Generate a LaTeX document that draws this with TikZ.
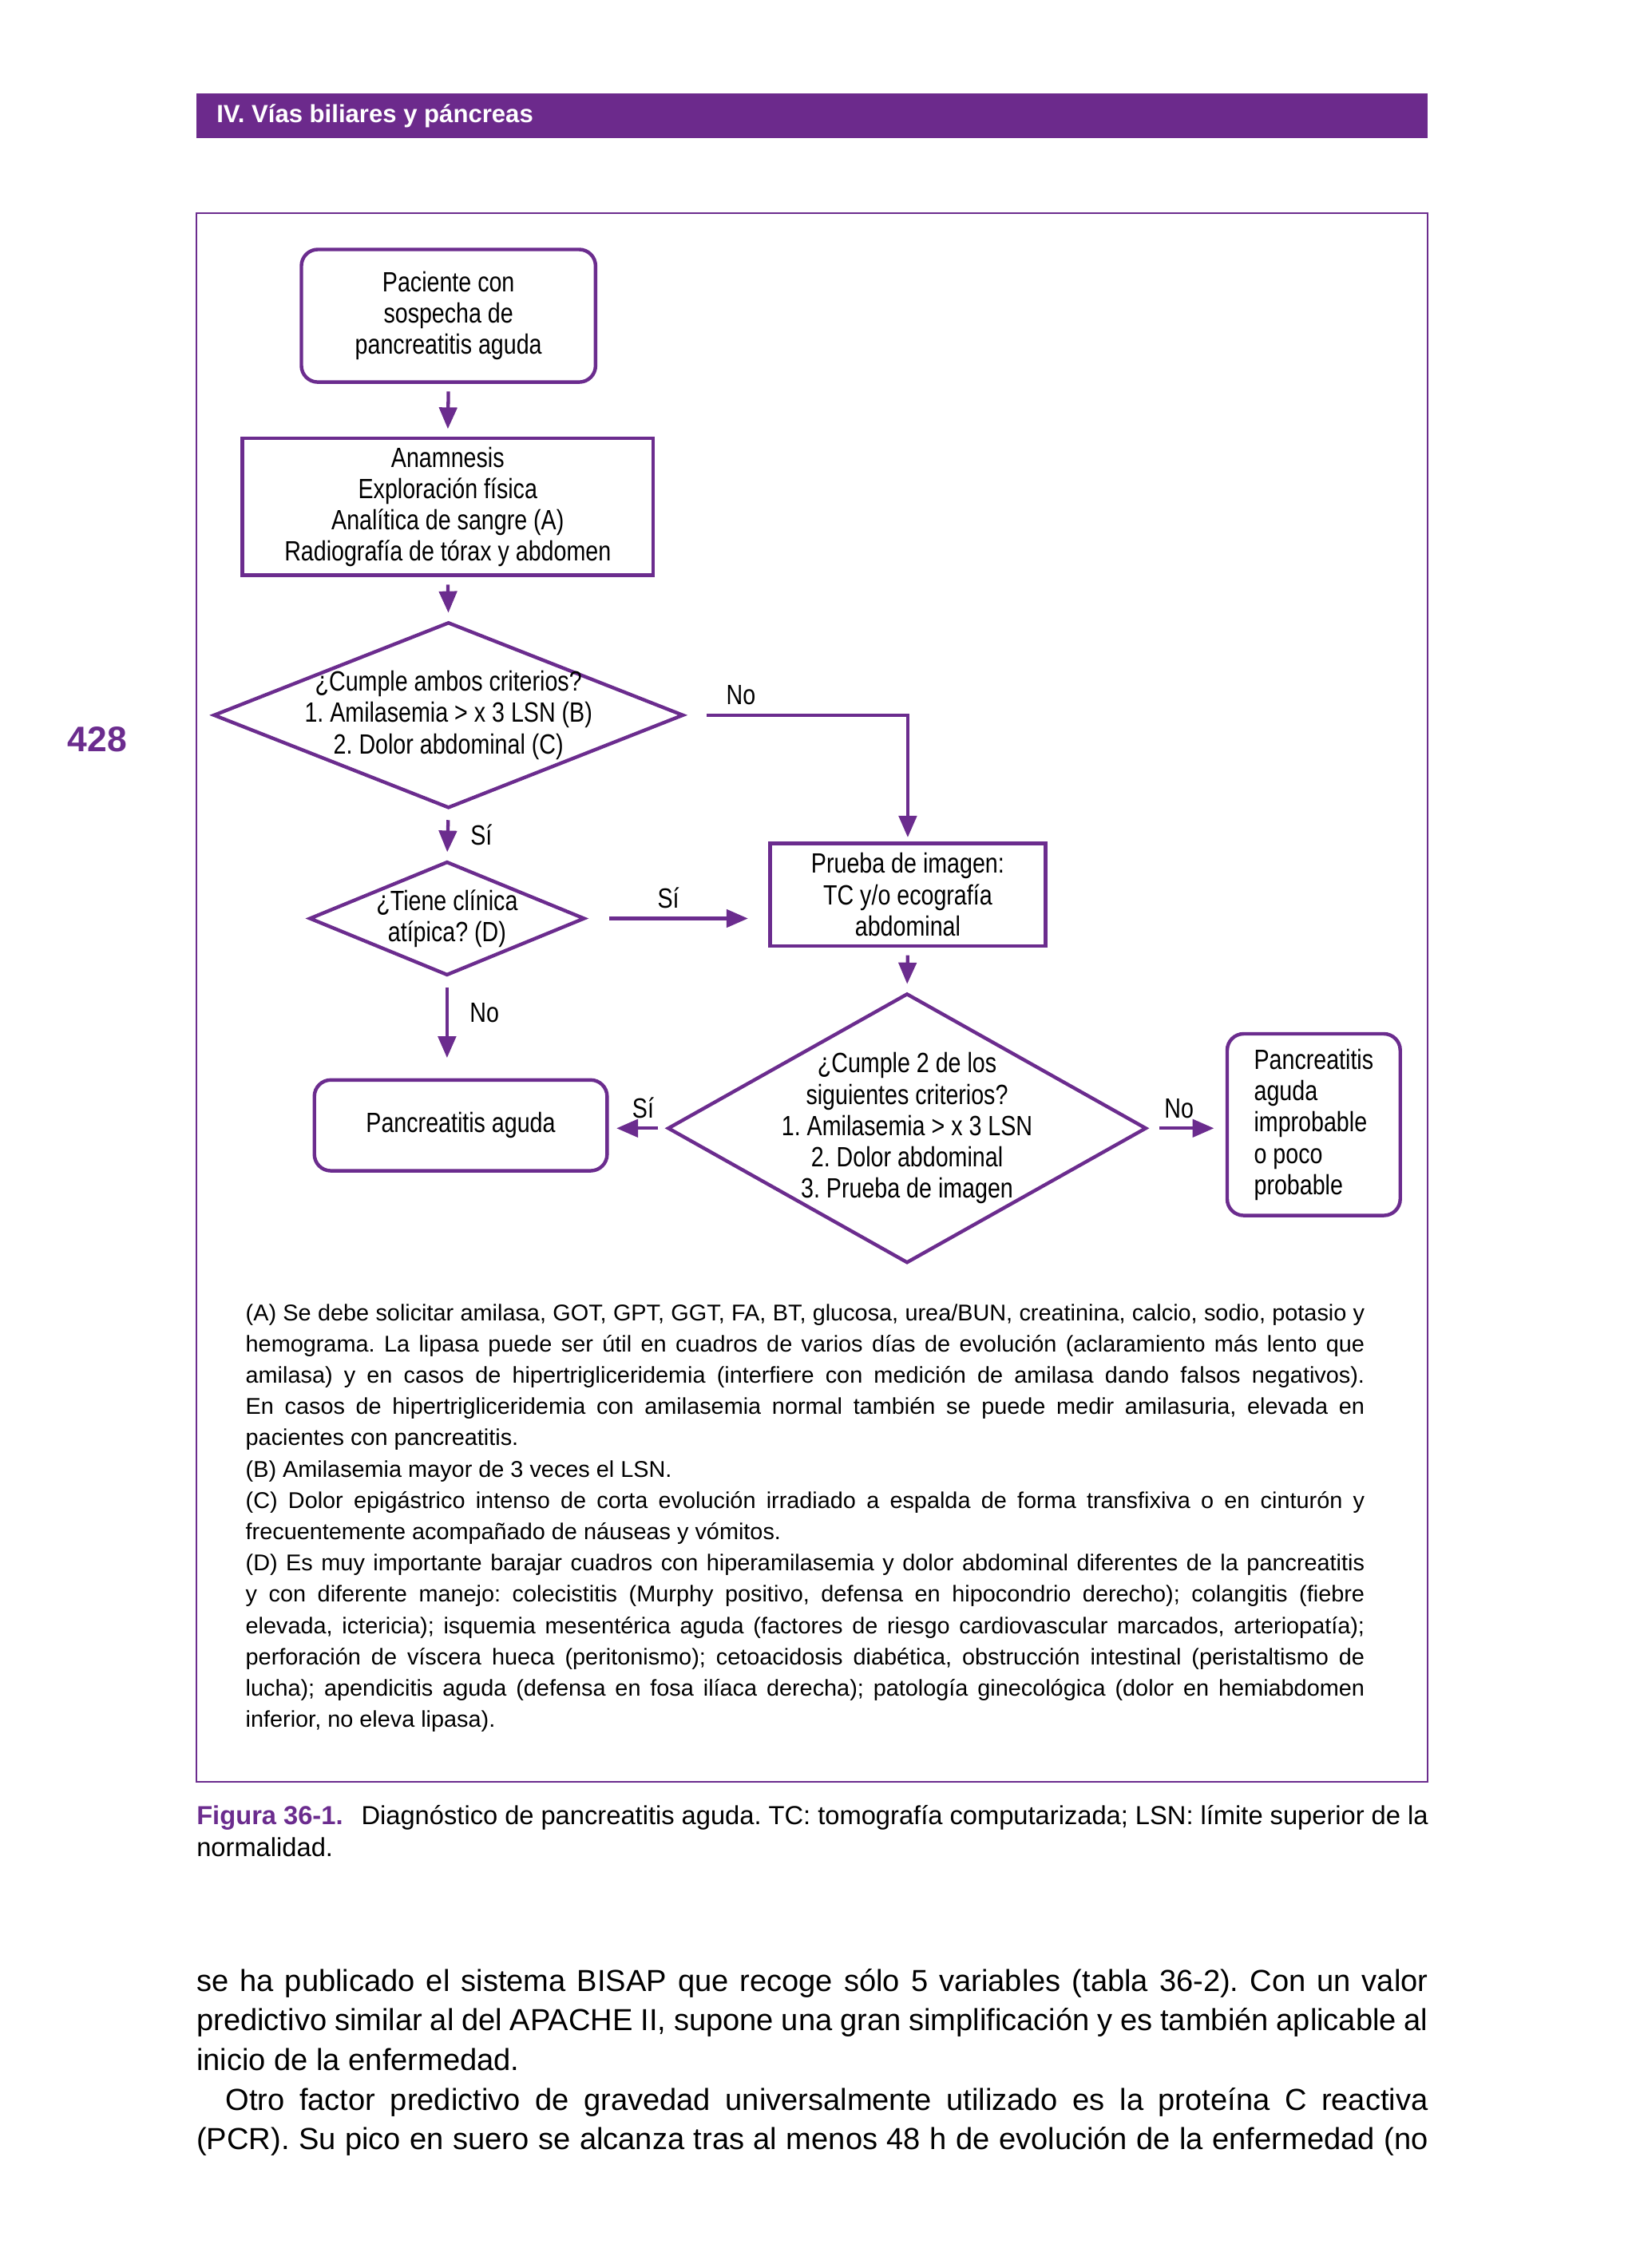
\documentclass[tikz,border=0pt]{standalone}
\usepackage{xcolor}
\usepackage{fontspec}
\setmainfont{Liberation Sans}
\newfontfamily\chartfont{Liberation Sans}[FakeStretch=0.82]
\newfontfamily\notefont{Liberation Sans}[FakeStretch=1.01]
\usepackage{tikz}
\usetikzlibrary{calc,shapes.geometric,arrows.meta}
\definecolor{bookPurple}{HTML}{6B2C8E}
\definecolor{barPurple}{HTML}{6C2A8C}

\begin{document}
\frenchspacing
\begin{tikzpicture}[x=0.2mm, y=-0.2mm,
                chart/.style={font=\chartfont\fontsize{11}{12.35}\selectfont, align=center},
                roundbox/.style={chart, draw=bookPurple, line width=1.4pt, rounded corners=6.5pt, inner sep=0pt},
                squarebox/.style={chart, draw=bookPurple, line width=1.4pt, inner sep=0pt},
                decision/.style={chart, diamond, draw=bookPurple, line width=1.4pt, inner sep=-50pt},
                link/.style={draw=bookPurple, line width=1.35pt, shorten <=3pt, shorten >=3pt, -{Triangle[length=8.5pt, width=7pt]}},
                answer/.style={font=\chartfont\fontsize{11}{12.35}\selectfont},
                notes/.style={anchor=north west, inner sep=0pt, align=justify, execute at begin node={\frenchspacing\tolerance=9999}}
            ]
                \useasboundingbox (0,0) rectangle (1134,1573);
                \fill[barPurple] (136,65) rectangle (990,96);
                \node[anchor=west, text=white, font=\bfseries\fontsize{9.8}{11}\selectfont] (chapter) at (144,80.5) {IV. Vías biliares y páncreas};
                \node[text=bookPurple, font=\bfseries\fontsize{14}{16}\selectfont] (pagenum) at (67.5,513) {428};
                \draw[bookPurple, line width=0.7pt] (136,148) rectangle (990,1236);

                \node[roundbox, minimum width=40.8mm, minimum height=18.4mm] (suspect) at (311,219) {Paciente con\\sospecha de\\pancreatitis aguda};
                \node[squarebox, minimum width=57mm, minimum height=19mm] (workup) at (310.5,351.5) {Anamnesis\\Exploración física\\Analítica de sangre (A)\\Radiografía de tórax y abdomen};
                \node[decision, minimum width=65.2mm, minimum height=25.8mm] (bothcrit) at (311,496) {¿Cumple ambos criterios?\\1. Amilasemia > x 3 LSN (B)\\2. Dolor abdominal (C)};
                \node[decision, minimum width=38.2mm, minimum height=15.8mm] (atypical) at (310,637) {¿Tiene clínica\\atípica? (D)};
                \node[squarebox, minimum width=38.2mm, minimum height=14.2mm] (imaging) at (629.5,620.5) {Prueba de imagen:\\TC y/o ecografía\\abdominal};
                \node[decision, minimum width=66.4mm, minimum height=37.4mm] (twocrit) at (629,782.5) {¿Cumple 2 de los\\siguientes criterios?\\1. Amilasemia > x 3 LSN\\2. Dolor abdominal\\3. Prueba de imagen};
                \node[roundbox, minimum width=40.6mm, minimum height=12.6mm] (acute) at (319.5,780.5) {Pancreatitis aguda};
                \node[roundbox, align=left, minimum width=24mm, minimum height=25.2mm] (unlikely) at (911,780) {Pancreatitis\\aguda\\improbable\\o poco\\probable};

                \draw[link] (suspect.south) -- (workup.north);
                \draw[link] (workup.south) -- (bothcrit.north);
                \draw[link, shorten <=4pt] (bothcrit.south) -- node[answer, right=5pt] {Sí} (atypical.north);
                \draw[link, shorten <=8.5pt, shorten >=1.7pt] (bothcrit.east) -- node[answer, above, pos=0.25] {No} (bothcrit.east -| imaging.north) -- (imaging.north);
                \draw[link, shorten <=9pt, shorten >=8pt] (atypical.east) -- node[answer, above, pos=0.45] {Sí} (atypical.east -| imaging.west);
                \draw[link, shorten <=4pt, shorten >=8pt] (atypical.south) -- node[answer, right=5pt, pos=0.35] {No} (atypical.south |- acute.north);
                \draw[link] (imaging.south) -- (twocrit.north);
                \draw[link] (twocrit.west) -- node[answer, above, pos=0.4] {Sí} (twocrit.west -| acute.east);
                \draw[link, shorten <=4.5pt, shorten >=4.5pt] (twocrit.east) -- node[answer, above, pos=0.4] {No} (twocrit.east -| unlikely.west);

                \node[notes, text width=155.2mm, font=\notefont\fontsize{9}{12.35}\selectfont] (footnotes) at (170,904) {(A) Se debe solicitar amilasa, GOT, GPT, GGT, FA, BT, glucosa, urea/BUN, creatinina, calcio, sodio, potasio y\linebreak hemograma. La lipasa puede ser útil en cuadros de varios días de evolución (aclaramiento más lento que\linebreak amilasa) y en casos de hipertrigliceridemia (interfiere con medición de amilasa dando falsos negativos).\linebreak En casos de hipertrigliceridemia con amilasemia normal también se puede medir amilasuria, elevada en\linebreak pacientes con pancreatitis.\par
(B) Amilasemia mayor de 3 veces el LSN.\par
(C) Dolor epigástrico intenso de corta evolución irradiado a espalda de forma transfixiva o en cinturón y\linebreak frecuentemente acompañado de náuseas y vómitos.\par
(D) Es muy importante barajar cuadros con hiperamilasemia y dolor abdominal diferentes de la pancreatitis\linebreak y con diferente manejo: colecistitis (Murphy positivo, defensa en hipocondrio derecho); colangitis (fiebre\linebreak elevada, ictericia); isquemia mesentérica aguda (factores de riesgo cardiovascular marcados, arteriopatía);\linebreak perforación de víscera hueca (peritonismo); cetoacidosis diabética, obstrucción intestinal (peristaltismo de\linebreak lucha); apendicitis aguda (defensa en fosa ilíaca derecha); patología ginecológica (dolor en hemiabdomen\linebreak inferior, no eleva lipasa).};
                \node[notes, text width=170.8mm, font=\fontsize{10.3}{12.5}\selectfont] (caption) at (136,1252) {\textcolor{bookPurple}{\bfseries Figura 36-1.}\hspace{0.7em}Diagnóstico de pancreatitis aguda. TC: tomografía computarizada; LSN: límite superior de la\linebreak normalidad.};
                \node[notes, text width=170.8mm, font=\fontsize{12}{15.65}\selectfont] (bodytext) at (136,1365) {se ha publicado el sistema BISAP que recoge sólo 5 variables (tabla 36-2). Con un valor\linebreak predictivo similar al del APACHE II, supone una gran simplificación y es también aplicable al\linebreak inicio de la enfermedad.\par
\hspace*{4mm}Otro factor predictivo de gravedad universalmente utilizado es la proteína C reactiva\linebreak (PCR). Su pico en suero se alcanza tras al menos 48 h de evolución de la enfermedad (no\parfillskip=0pt\par};
            \end{tikzpicture}
\end{document}
